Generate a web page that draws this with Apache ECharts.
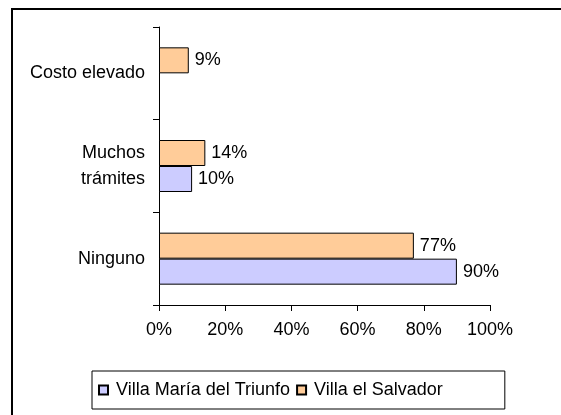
<!DOCTYPE html>
<html>
<head>
<meta charset="utf-8">
<script src="https://cdn.jsdelivr.net/npm/echarts@6/dist/echarts.min.js"></script>
<style>
  html, body { margin: 0; padding: 0; background: #fff; }
  #chart { width: 561px; height: 415px; }
</style>
</head>
<body>
<div id="chart"></div>
<script>
// Obstacles reported, by district (% of respondents)
const categories = ['Ninguno', 'Muchos\ntrámites', 'Costo elevado'];
const seriesNames = ['Villa María del Triunfo', 'Villa el Salvador'];
const villaMaria = [90, 10, null];
const villaSalvador = [77, 14, 9];
const xTicks = [0, 20, 40, 60, 80, 100];

const FONT = 'Liberation Sans, Arial, sans-serif';
const chart = echarts.init(document.getElementById('chart'), null, { renderer: 'canvas' });

const barLabel = {
  show: true,
  position: 'right',
  distance: 6,
  color: '#000',
  fontFamily: FONT,
  fontSize: 18,
  formatter: p => p.value + '%'
};

chart.setOption({
  animation: false,
  backgroundColor: '#fff',
  graphic: [
    // frame around the chart (open at right and bottom)
    { type: 'line', shape: { x1: 12, y1: 9, x2: 12, y2: 415 }, style: { stroke: '#000', lineWidth: 2 } },
    { type: 'line', shape: { x1: 11, y1: 9, x2: 561, y2: 9 }, style: { stroke: '#000', lineWidth: 2 } }
  ],
  grid: { left: 159, right: 71, top: 27, bottom: 110, containLabel: false },
  xAxis: {
    type: 'value',
    min: xTicks[0],
    max: xTicks[xTicks.length - 1],
    interval: 20,
    axisLine: { show: true, lineStyle: { color: '#000', width: 1 } },
    axisTick: { show: true, length: 6, lineStyle: { color: '#000' } },
    splitLine: { show: false },
    axisLabel: {
      color: '#000', fontFamily: FONT, fontSize: 18, margin: 16,
      formatter: v => v + '%'
    }
  },
  yAxis: {
    type: 'category',
    data: categories,
    axisLine: { show: true, lineStyle: { color: '#000', width: 1 } },
    axisTick: { show: true, length: 6, lineStyle: { color: '#000' } },
    axisLabel: {
      color: '#000', fontFamily: FONT, fontSize: 18, margin: 14,
      align: 'right', lineHeight: 26
    }
  },
  legend: {
    data: seriesNames,
    left: 92,
    top: 371,
    orient: 'horizontal',
    icon: 'rect',
    itemWidth: 9,
    itemHeight: 9,
    itemGap: 6,
    padding: [10, 62, 10, 6],
    borderColor: '#000',
    borderWidth: 1,
    textStyle: { color: '#000', fontFamily: FONT, fontSize: 18, padding: [0, 0, 0, 3] }
  },
  series: [
    {
      name: seriesNames[1],
      type: 'bar',
      data: villaSalvador,
      barWidth: 26,
      barGap: '0%',
      itemStyle: { color: '#ffcc99', borderColor: '#000', borderWidth: 1 },
      label: barLabel
    },
    {
      name: seriesNames[0],
      type: 'bar',
      data: villaMaria,
      barWidth: 26,
      barGap: '0%',
      itemStyle: { color: '#ccccff', borderColor: '#000', borderWidth: 1 },
      label: barLabel
    }
  ]
});
</script>
</body>
</html>
